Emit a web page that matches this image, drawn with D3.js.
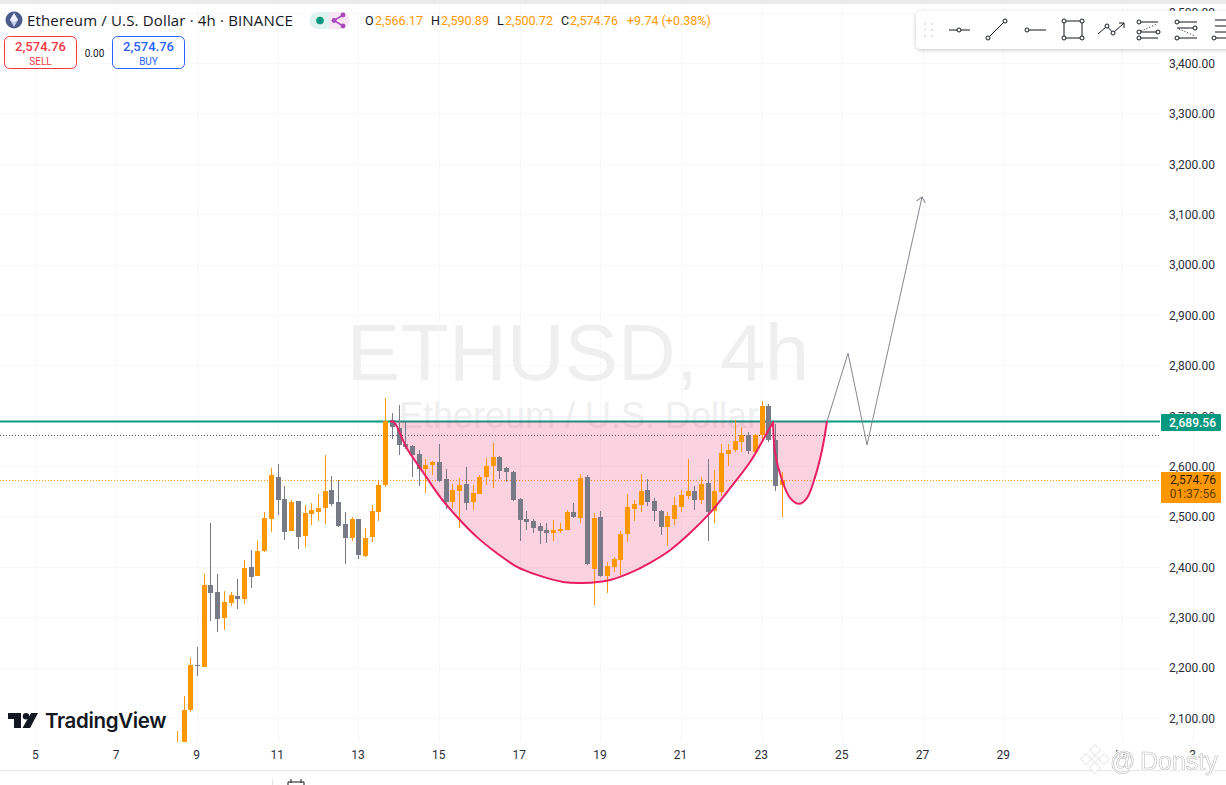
<!DOCTYPE html>
<html>
<head>
<meta charset="utf-8">
<script src="https://d3js.org/d3.v7.min.js"></script>
<style>
  html, body { margin: 0; padding: 0; background: #fff; overflow: hidden; }
  svg { display: block; font-family: "Open Sans", Roboto, sans-serif; }
  .axis path, .axis line { display: none; }
  .axis text { font-family: Roboto, sans-serif; font-size: 12px; fill: #2a2e39; }
</style>
</head>
<body>
<div id="chart"></div>
<script>
// candles, 4h, first one opens on day 8.5
var firstDay = 8.5;
var opens = [2000,2040,2116,2205,2201,2364,2350,2298,2328,2342,2336,2400,2382,2431,2495,2578,2535,2471,2531,2461,2505,2509,2517,2552,2529,2485,2457,2495,2421,2459,2509,2562,2691,2675,2644,2640,2624,2594,2602,2608,2574,2529,2550,2564,2529,2545,2578,2600,2618,2596,2588,2535,2495,2491,2481,2473,2467,2471,2473,2509,2497,2578,2396,2499,2382,2400,2413,2465,2515,2523,2552,2531,2511,2479,2495,2519,2540,2550,2533,2566,2511,2548,2624,2632,2648,2662,2628,2662,2719,2652,2562];
var highs = [2074,2144,2219,2241,2386,2487,2386,2352,2350,2376,2414,2433,2451,2509,2596,2604,2560,2533,2531,2523,2527,2545,2622,2580,2572,2509,2499,2495,2477,2523,2570,2735,2705,2721,2687,2642,2632,2614,2610,2644,2594,2564,2576,2598,2562,2582,2616,2646,2620,2598,2590,2537,2511,2495,2487,2487,2493,2487,2513,2527,2584,2582,2507,2511,2409,2419,2471,2545,2533,2584,2574,2537,2513,2509,2539,2552,2614,2560,2578,2614,2592,2644,2644,2691,2677,2667,2664,2729,2723,2683,2588];
var lows = [1990,2030,2112,2183,2201,2292,2271,2275,2322,2316,2326,2358,2382,2429,2469,2503,2453,2471,2435,2439,2483,2491,2485,2521,2479,2405,2451,2415,2419,2449,2491,2558,2654,2622,2633,2578,2560,2547,2582,2568,2515,2517,2477,2513,2513,2545,2562,2556,2574,2568,2531,2451,2473,2467,2445,2447,2451,2467,2473,2497,2487,2404,2324,2380,2348,2390,2384,2449,2491,2509,2521,2491,2463,2441,2483,2509,2535,2513,2525,2451,2487,2540,2600,2628,2628,2624,2628,2648,2648,2550,2499];
var closes = [2045,2116,2205,2203,2364,2349,2296,2330,2344,2336,2398,2380,2431,2497,2582,2533,2469,2529,2459,2507,2513,2517,2550,2525,2481,2457,2495,2423,2457,2511,2562,2689,2677,2642,2638,2622,2594,2602,2608,2570,2529,2552,2562,2527,2547,2578,2600,2618,2590,2588,2533,2493,2489,2477,2471,2467,2473,2475,2509,2499,2576,2406,2497,2382,2401,2415,2465,2519,2525,2550,2529,2511,2479,2501,2523,2543,2550,2533,2564,2509,2550,2626,2632,2650,2662,2630,2662,2719,2652,2560,2572];

// cup and handle outline, as day / price
var cupDays = [13.787,13.886,14.201,14.605,15.027,15.473,15.944,16.44,16.937,17.433,18.077,18.573,19.243,19.739,20.235,20.731,21.227,21.723,22.219,22.715,23.038,23.286];
var cupPrices = [2689,2687,2636,2588,2539,2497,2459,2427,2400,2384,2370,2368,2374,2388,2408,2433,2467,2507,2556,2608,2652,2687];
var handleDays = [23.286,23.336,23.509,23.707,23.931,24.129,24.327,24.501,24.625];
var handlePrices = [2687,2626,2572,2537,2525,2537,2578,2632,2689];

// projected path
var arrowDays = [24.625,25.146,25.617,26.981];
var arrowPrices = [2689,2824,2642,3134];

var resistance = 2689.56, lastPrice = 2574.76, lastLine = 2572, prevLevel = 2661;

var priceTicks = [3500,3400,3300,3200,3100,3000,2900,2800,2700,2600,2500,2400,2300,2200,2100];
var dayTicks = [5,7,9,11,13,15,17,19,21,23,25,27,29,31.94,33.7];
var dayLabels = ["5","7","9","11","13","15","17","19","21","23","25","27","29","Jun","3"];

var width = 1226, height = 785, paneRight = 1160, paneBottom = 742;
var up = "#ff9800", down = "#787b86", pink = "#e91e63", green = "#089981";

var x = d3.scaleLinear().domain([9, 27]).range([197, 922.8]);
var y = d3.scaleLinear().domain([3400, 2100]).range([63, 718]);

var svg = d3.select("#chart").append("svg").attr("width", width).attr("height", height);

var defs = svg.append("defs");
defs.append("clipPath").attr("id", "pane").append("rect")
    .attr("width", paneRight).attr("height", paneBottom);
defs.append("marker").attr("id", "head")
    .attr("viewBox", "-10 -6 12 12").attr("refX", 0).attr("refY", 0)
    .attr("markerWidth", 12).attr("markerHeight", 12).attr("markerUnits", "userSpaceOnUse")
    .attr("orient", "auto")
  .append("path").attr("d", "M-5,-4.5L0,0L-5,4.5").attr("fill", "none").attr("stroke", "#85878f");
var softShadow = defs.append("filter").attr("id", "shadow")
    .attr("x", "-5%").attr("y", "-20%").attr("width", "110%").attr("height", "150%");
softShadow.append("feDropShadow").attr("dx", 0).attr("dy", 1).attr("stdDeviation", 2)
    .attr("flood-color", "#000").attr("flood-opacity", 0.22);
defs.append("filter").attr("id", "soft").append("feGaussianBlur").attr("stdDeviation", 0.4);

// top strip and bottom rule
svg.append("rect").attr("width", width).attr("height", 4).attr("fill", "#ebebeb");
svg.append("rect").attr("y", 770).attr("width", width).attr("height", 1).attr("fill", "#e6e6e6");

// grid
svg.append("g").selectAll("line").data(priceTicks).enter().append("line")
    .attr("x1", 0).attr("x2", paneRight)
    .attr("y1", function(d) { return Math.round(y(d)) + 0.5; })
    .attr("y2", function(d) { return Math.round(y(d)) + 0.5; })
    .attr("stroke", "#f8f8f9");
svg.append("g").selectAll("line").data(dayTicks).enter().append("line")
    .attr("y1", 4).attr("y2", paneBottom)
    .attr("x1", function(d) { return Math.round(x(d)) + 0.5; })
    .attr("x2", function(d) { return Math.round(x(d)) + 0.5; })
    .attr("stroke", "#f8f8f9");

// big watermark
svg.append("text").attr("x", 578).attr("y", 380).attr("text-anchor", "middle")
    .attr("font-family", "Liberation Sans, sans-serif").attr("font-size", 80).attr("fill", "#efefef")
    .text("ETHUSD, 4h");
svg.append("text").attr("x", 579).attr("y", 428).attr("text-anchor", "middle")
    .attr("font-family", "Liberation Sans, sans-serif").attr("font-size", 36).attr("fill", "#efefef")
    .text("Ethereum / U.S. Dollar");

// axes
var priceAxis = d3.axisRight(y).tickValues(priceTicks).tickSize(0).tickPadding(0)
    .tickFormat(d3.format(",.2f"));
svg.append("g").attr("class", "axis").attr("transform", "translate(1169,0.5)").call(priceAxis);

var timeAxis = d3.axisBottom(x).tickValues(dayTicks).tickSize(0).tickPadding(0)
    .tickFormat(function(d, i) { return dayLabels[i]; });
svg.append("g").attr("class", "axis").attr("transform", "translate(-0.8,750)").call(timeAxis);

var pane = svg.append("g").attr("clip-path", "url(#pane)");

// horizontal levels
pane.append("line").attr("x1", 0).attr("x2", paneRight)
    .attr("y1", y(resistance) + 0.5).attr("y2", y(resistance) + 0.5)
    .attr("stroke", green).attr("stroke-width", 2);
pane.append("line").attr("x1", 0).attr("x2", paneRight)
    .attr("y1", Math.round(y(prevLevel)) + 0.5).attr("y2", Math.round(y(prevLevel)) + 0.5)
    .attr("stroke", "#555").attr("stroke-dasharray", "1 2").attr("shape-rendering", "crispEdges");
pane.append("line").attr("x1", 0).attr("x2", paneRight)
    .attr("y1", Math.round(y(lastLine)) + 0.5).attr("y2", Math.round(y(lastLine)) + 0.5)
    .attr("stroke", up).attr("stroke-dasharray", "1 2").attr("shape-rendering", "crispEdges");

// cup and handle
var curve = d3.line()
    .x(function(d) { return x(d[0]); })
    .y(function(d) { return y(d[1]); })
    .curve(d3.curveCatmullRom.alpha(0.5));
var cupPath = curve(d3.zip(cupDays, cupPrices));
var handlePath = curve(d3.zip(handleDays, handlePrices));
var outline = cupPath + handlePath.replace(/^M[^C]*/, "");

pane.append("path").attr("d", outline + "Z").attr("fill", pink).attr("fill-opacity", 0.2);

// candles
var candles = pane.append("g").attr("shape-rendering", "crispEdges");
var candleX = function(d, i) { return Math.round(x(firstDay + i / 6)); };
candles.selectAll(".wick").data(opens).enter().append("rect")
    .attr("class", "wick")
    .attr("x", function(d, i) { return candleX(d, i); })
    .attr("width", 1)
    .attr("y", function(d, i) { return y(highs[i]); })
    .attr("height", function(d, i) { return y(lows[i]) - y(highs[i]); })
    .attr("fill", function(d, i) { return closes[i] >= d ? up : down; });
candles.selectAll(".body").data(opens).enter().append("rect")
    .attr("class", "body")
    .attr("x", function(d, i) { return candleX(d, i) - 2; })
    .attr("width", 5)
    .attr("y", function(d, i) { return y(Math.max(d, closes[i])); })
    .attr("height", function(d, i) { return Math.max(1, Math.abs(y(d) - y(closes[i]))); })
    .attr("fill", function(d, i) { return closes[i] >= d ? up : down; });

pane.append("path").attr("d", outline).attr("fill", "none")
    .attr("stroke", pink).attr("stroke-width", 2).attr("stroke-linejoin", "round");

// projected path
var arrowLine = d3.line()
    .x(function(d) { return x(d[0]); })
    .y(function(d) { return y(d[1]); });
pane.append("path").attr("d", arrowLine(d3.zip(arrowDays, arrowPrices)))
    .attr("fill", "none").attr("stroke", "#85878f").attr("stroke-width", 1)
    .attr("marker-end", "url(#head)");

// price labels on the axis
svg.append("rect").attr("x", 1161).attr("y", 414).attr("width", 60).attr("height", 17).attr("rx", 1).attr("fill", green);
svg.append("text").attr("x", 1216).attr("y", 426.5).attr("text-anchor", "end")
    .attr("font-family", "Roboto, sans-serif").attr("font-size", 12).attr("font-weight", 500).attr("fill", "#fff")
    .text(d3.format(",.2f")(resistance));
svg.append("rect").attr("x", 1161).attr("y", 472).attr("width", 60).attr("height", 31).attr("rx", 1).attr("fill", up);
svg.append("text").attr("x", 1216).attr("y", 484).attr("text-anchor", "end")
    .attr("font-family", "Roboto, sans-serif").attr("font-size", 12).attr("fill", "#2a2008")
    .text(d3.format(",.2f")(lastPrice));
svg.append("text").attr("x", 1216).attr("y", 498).attr("text-anchor", "end")
    .attr("font-family", "Roboto, sans-serif").attr("font-size", 12).attr("fill", "#5a3d00")
    .text("01:37:56");

// header
var head = svg.append("g");
head.append("circle").attr("cx", 14).attr("cy", 20).attr("r", 8.5).attr("fill", "#4d5a8c");
head.append("path").attr("d", "M14,13L18,20L14,27L10,20Z").attr("fill", "#c3cbe8");
head.append("path").attr("d", "M14,13L18,20L14,22L10,20Z").attr("fill", "#eef1fb");
head.append("text").attr("x", 27).attr("y", 26).attr("font-size", 15).attr("letter-spacing", 0.16).attr("fill", "#131722")
    .text("Ethereum / U.S. Dollar · 4h · BINANCE");

head.append("path").attr("d", "M318,12H329V29H318A8.5,8.5 0 0 1 318,12Z").attr("fill", "#dff3f0");
head.append("path").attr("d", "M329,12H341A8.5,8.5 0 0 1 341,29H329Z").attr("fill", "#f8e6f3");
head.append("circle").attr("cx", 320).attr("cy", 20.5).attr("r", 3.8).attr("fill", green);
head.append("path").attr("d", "M343,15L334,20.5L343,26").attr("fill", "none").attr("stroke", "#ab47bc").attr("stroke-width", 1.5);
head.selectAll(".node").data([[343, 15], [334, 20.5], [343, 26]]).enter().append("circle")
    .attr("cx", function(d) { return d[0]; }).attr("cy", function(d) { return d[1]; })
    .attr("r", 2.4).attr("fill", "#ab47bc");

var legendParts = [
  [365, "O", "#131722"], [375, "2,566.17", up],
  [431, "H", "#131722"], [441, "2,590.89", up],
  [497, "L", "#131722"], [505, "2,500.72", up],
  [561, "C", "#131722"], [570, "2,574.76", up],
  [627, "+9.74 (+0.38%)", up]
];
head.selectAll(".legend").data(legendParts).enter().append("text")
    .attr("x", function(d) { return d[0]; }).attr("y", 25)
    .attr("font-family", "Roboto, sans-serif").attr("font-size", 12.5)
    .attr("fill", function(d) { return d[2]; })
    .text(function(d) { return d[1]; });

// sell / buy boxes
function tradeBox(left, color, label) {
  head.append("rect").attr("x", left + 0.5).attr("y", 36.5).attr("width", 72).attr("height", 32).attr("rx", 5)
      .attr("fill", "#fff").attr("stroke", color);
  head.append("text").attr("x", left + 36.5).attr("y", 51).attr("text-anchor", "middle")
      .attr("font-family", "Roboto, sans-serif").attr("font-size", 13).attr("font-weight", 500).attr("fill", color)
      .text("2,574.76");
  head.append("text").attr("x", left + 36.5).attr("y", 65).attr("text-anchor", "middle")
      .attr("font-family", "Roboto, sans-serif").attr("font-size", 10).attr("fill", color)
      .text(label);
}
tradeBox(4, "#f23645", "SELL");
tradeBox(112, "#2962ff", "BUY");
head.append("text").attr("x", 94.5).attr("y", 57).attr("text-anchor", "middle")
    .attr("font-family", "Roboto, sans-serif").attr("font-size", 10).attr("fill", "#131722").text("0.00");

// drawing toolbar
var bar = svg.append("g");
bar.append("rect").attr("x", 916).attr("y", 11).attr("width", 320).attr("height", 38).attr("rx", 5)
    .attr("fill", "#fff").attr("filter", "url(#shadow)");
[925, 932].forEach(function(gx) {
  [24, 30, 36].forEach(function(gy) {
    bar.append("circle").attr("cx", gx).attr("cy", gy).attr("r", 0.9).attr("fill", "#d5d7dd");
  });
});
var barLines = [
  [949,30,970,30],[988,38,1005,21],[1027,30,1046,30],
  [1064,21,1082,21],[1082,21,1082,38],[1082,38,1064,38],[1064,38,1064,21],
  [1098,34,1107,26],[1107,26,1113,33],[1113,33,1124,23],[1124,23,1119,23],[1124,23,1124,28],
  [1139,22,1158,22],[1139,32,1158,32],[1139,38,1158,38],
  [1177,22,1197,22],[1177,28,1197,28],[1177,38,1197,38],
  [1215,20,1226,20],[1215,26,1226,26],[1215,32,1226,32],[1215,38,1226,38]
];
bar.selectAll(".tool").data(barLines).enter().append("line")
    .attr("x1", function(d) { return d[0]; }).attr("y1", function(d) { return d[1]; })
    .attr("x2", function(d) { return d[2]; }).attr("y2", function(d) { return d[3]; })
    .attr("stroke", "#131722").attr("stroke-width", 1);
bar.selectAll(".toolDots").data([[1141,31,1157,24],[1179,29,1195,36]]).enter().append("line")
    .attr("x1", function(d) { return d[0]; }).attr("y1", function(d) { return d[1]; })
    .attr("x2", function(d) { return d[2]; }).attr("y2", function(d) { return d[3]; })
    .attr("stroke", "#131722").attr("stroke-dasharray", "1 2");
bar.selectAll(".knob").data([
  [959,30],[988,38],[1005,21],[1027,30],[1064,21],[1082,21],[1064,38],[1082,38],
  [1107,26],[1113,33],[1139,22],[1139,32],[1139,38],[1158,32],
  [1177,22],[1177,38],[1195,28],[1214,38]
]).enter().append("circle")
    .attr("cx", function(d) { return d[0]; }).attr("cy", function(d) { return d[1]; })
    .attr("r", 2).attr("fill", "#fff").attr("stroke", "#131722");

// TradingView logo
var logo = svg.append("g").attr("transform", "translate(8,713)");
logo.append("path").attr("d", "M0,0H13V15H6V6H0Z").attr("fill", "#131722");
logo.append("circle").attr("cx", 18).attr("cy", 3.2).attr("r", 3.2).attr("fill", "#131722");
logo.append("path").attr("d", "M23,0H30L22,15H14.5Z").attr("fill", "#131722");
svg.append("text").attr("x", 45).attr("y", 728).attr("font-family", "Inter, sans-serif")
    .attr("font-size", 20.5).attr("font-weight", 600).attr("letter-spacing", -0.35).attr("fill", "#131722")
    .text("TradingView");

// bottom toolbar scrap
svg.append("rect").attr("x", 272).attr("y", 779).attr("width", 1).attr("height", 6).attr("fill", "#e0e3eb");
svg.append("path").attr("d", "M288,785V782H304V785M291,779V783M301,779V783").attr("fill", "none").attr("stroke", "#131722");

// site stamp
var stamp = svg.append("g").attr("filter", "url(#soft)");
var stampMarks = [[1095,750,5.5],[1086,759,5.5],[1104,759,5.5],[1095,768,5.5],[1095,759,3.5]];
stamp.selectAll("path").data(stampMarks).enter().append("path")
    .attr("d", function(d) { return "M" + d[0] + "," + (d[1] - d[2]) + "L" + (d[0] + d[2]) + "," + d[1] + "L" + d[0] + "," + (d[1] + d[2]) + "L" + (d[0] - d[2]) + "," + d[1] + "Z"; })
    .attr("fill", "#fff").attr("stroke", "#dedede");
[[1110, "@"], [1140, "Donsty"]].forEach(function(t) {
  stamp.append("text").attr("x", t[0]).attr("y", 770).attr("font-family", "Liberation Sans, sans-serif")
      .attr("font-size", 25).attr("fill", "#fff").attr("stroke", "#fff").attr("stroke-width", 3).attr("stroke-opacity", 0.8)
      .text(t[1]);
  stamp.append("text").attr("x", t[0]).attr("y", 770).attr("font-family", "Liberation Sans, sans-serif")
      .attr("font-size", 25).attr("fill", "#fff").attr("stroke", "#bdbdbd").attr("stroke-width", 0.6)
      .text(t[1]);
});
</script>
</body>
</html>
